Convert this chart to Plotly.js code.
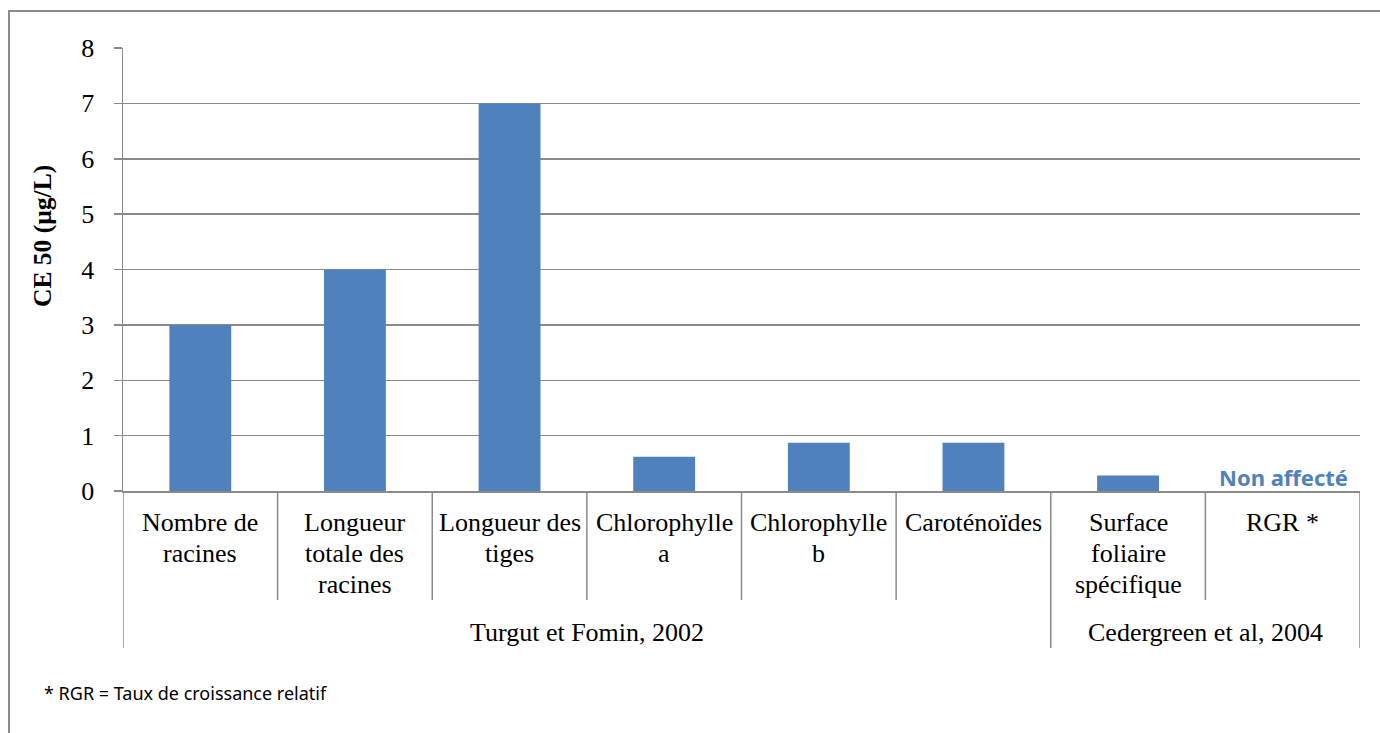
<!DOCTYPE html>
<html>
<head>
<meta charset="utf-8">
<script src="https://cdn.plot.ly/plotly-3.0.1.min.js"></script>
<style>
html,body{margin:0;padding:0;background:#fff;}
#chart{width:1380px;height:733px;}
</style>
</head>
<body>
<div id="chart"></div>
<script>
// ---- data ----
const categories = [
  "Nombre de<br>racines",
  "Longueur<br>totale des<br>racines",
  "Longueur des<br>tiges",
  "Chlorophylle<br>a",
  "Chlorophylle<br>b",
  "Caroténoïdes",
  "Surface<br>foliaire<br>spécifique",
  "RGR *"
];
const values = [3.0, 4.0, 7.0, 0.62, 0.87, 0.87, 0.28, null];
const groupNames = ["Turgut et Fomin, 2002", "Cedergreen et al, 2004"];
const groupSizes = [6, 2];
const yTickValues = [0, 1, 2, 3, 4, 5, 6, 7, 8];
const yTitle = "CE 50 (µg/L)";
const noEffectText = "Non affecté";
const noEffectCategory = "RGR *";
const footnote = "* RGR = Taux de croissance relatif";

// ---- layout helpers ----
const W = 1380, H = 733;
const M = {l: 123, r: 20, t: 48, b: 242};
const plotH = H - M.t - M.b;
const plotW = W - M.l - M.r;
const py = px => (H - M.b - px) / plotH;   // pixel y -> paper y
const pxX = px => (px - M.l) / plotW;      // pixel x -> paper x

const serif = "Liberation Serif, Times New Roman, serif";
const gray = "#8a8a8a";
const blue = "#4F81BD";

const annotations = [];
const shapes = [];

// category labels (each line separately for tighter spacing)
categories.forEach((c, i) => {
  c.split("<br>").forEach((line, j) => {
    annotations.push({
      x: c, xref: "x", y: py(522 + 31 * j), yref: "paper",
      text: line, showarrow: false, xanchor: "center", yanchor: "middle",
      font: {family: serif, size: 26, color: "#000"}
    });
  });
});

// separators between categories and groups
const groupBounds = [0];
groupSizes.forEach(s => groupBounds.push(groupBounds[groupBounds.length - 1] + s));
for (let k = 0; k <= categories.length; k++) {
  const isGroup = groupBounds.includes(k);
  shapes.push({
    type: "line", xref: "x", yref: "paper",
    x0: k - 0.5, x1: k - 0.5, y0: 0, y1: py(isGroup ? 648 : 600),
    line: {color: gray, width: 1.5}
  });
}
// group labels
groupNames.forEach((g, gi) => {
  const mid = (groupBounds[gi] + groupBounds[gi + 1] - 1) / 2;
  annotations.push({
    x: mid, xref: "x", y: py(632), yref: "paper",
    text: g, showarrow: false, xanchor: "center", yanchor: "middle",
    font: {family: serif, size: 26, color: "#000"}
  });
});

// y-axis title
annotations.push({
  x: pxX(42), xref: "paper", y: py(236), yref: "paper",
  text: "<b>" + yTitle + "</b>", textangle: -90, showarrow: false,
  xanchor: "center", yanchor: "middle",
  font: {family: serif, size: 25.5, color: "#000"}
});

// "Non affecté"
annotations.push({
  x: noEffectCategory, xref: "x", y: 0, yref: "y",
  text: "<b>" + noEffectText + "</b>", showarrow: false,
  xanchor: "center", yanchor: "middle", yshift: 14, xshift: 1,
  font: {family: "Noto Sans, sans-serif", size: 22, color: blue}
});

// footnote
annotations.push({
  x: pxX(42), xref: "paper", y: py(693), yref: "paper",
  text: footnote, showarrow: false, xanchor: "left", yanchor: "middle",
  font: {family: "Noto Sans, sans-serif", size: 18, color: "#000"}
});

// outer frame
shapes.push({
  type: "rect", xref: "paper", yref: "paper",
  x0: pxX(9), x1: pxX(1392), y0: py(745), y1: py(11),
  line: {color: gray, width: 2}, fillcolor: "rgba(0,0,0,0)"
});

const trace = {
  type: "bar", x: categories, y: values,
  marker: {color: blue, line: {width: 0}},
  hoverinfo: "skip"
};

const layout = {
  width: W, height: H,
  margin: M,
  paper_bgcolor: "#fff", plot_bgcolor: "#fff",
  showlegend: false,
  bargap: 0.6,
  xaxis: {
    type: "category", range: [-0.5, categories.length - 0.5],
    showticklabels: false, ticks: "", showgrid: false,
    showline: true, linecolor: gray, linewidth: 1.5, zeroline: false, fixedrange: true
  },
  yaxis: {
    range: [0, 8], tickvals: yTickValues, ticktext: yTickValues.map(String),
    showgrid: true, gridcolor: gray, gridwidth: 1.5,
    showline: true, linecolor: gray, linewidth: 1.5,
    ticks: "outside", ticklen: 8, tickcolor: gray, tickwidth: 1.5,
    ticklabelstandoff: 14,
    tickfont: {family: serif, size: 26, color: "#000"},
    zeroline: false, fixedrange: true
  },
  annotations: annotations,
  shapes: shapes
};

Plotly.newPlot("chart", [trace], layout, {staticPlot: true, displayModeBar: false});
</script>
</body>
</html>
